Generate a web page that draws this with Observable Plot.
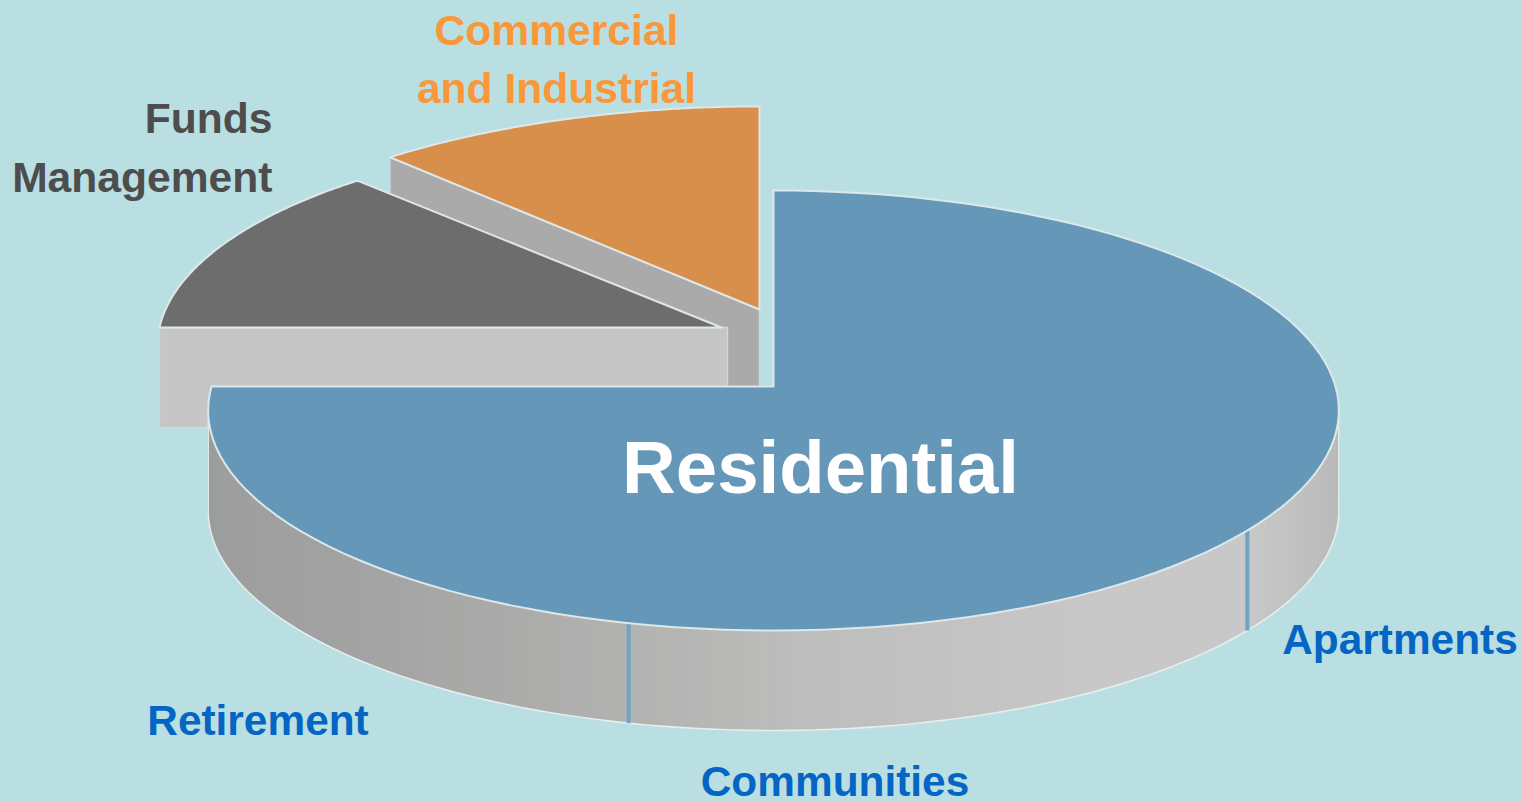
<!DOCTYPE html>
<html>
<head>
<meta charset="utf-8">
<script src="https://cdn.jsdelivr.net/npm/d3@7"></script>
<script src="https://cdn.jsdelivr.net/npm/@observablehq/plot@0.6"></script>
<style>
  html, body { margin: 0; padding: 0; background: #b9dfe3; overflow: hidden; }
  svg { display: block; }
</style>
</head>
<body>
<div id="chart"></div>
<script>
// Portfolio shares, in percent of the whole pie, clockwise from 12 o'clock.
const residentialParts = ["Apartments", "Communities", "Retirement"];
const residentialShares = [35.6, 18.1, 21.3];
const otherSlices = ["Funds Management", "Commercial and Industrial"];
const otherShares = [13, 12];

const W = 1522, H = 801;
const background = "#b9dfe3";

// Tilted-disc camera: unit-circle plane to page pixels, with a mild perspective.
const cx = 773, cy = 386, rx = 562, ry = 217.4, persp = 0.109, depth = 100;
const project = (deg, r = 1, ox = 0, oy = 0) => {
  const a = deg * Math.PI / 180;
  const X = r * Math.sin(a), Y = r * Math.cos(a);
  const s = 1 / (1 + persp * Y);
  return {x: cx + rx * X * s + ox, y: cy - ry * Y * s + oy};
};
const toDeg = (pct) => pct * 3.6;
const range = (a, b, n = 120) => d3.range(n + 1).map((i) => a + (b - a) * i / n);

const residentialEnd = toDeg(d3.sum(residentialShares));
const fundsEnd = residentialEnd + toDeg(otherShares[0]);

// Pulled-out slices: offset from the pie centre, radius, and a slight lean of the far edge.
const funds = {ox: -52, oy: -59, r: 1, lean: 0.053};
const commercial = {ox: -14, oy: -77, r: 1.04, lean: 0};

const wedge = (from, to, {ox = 0, oy = 0, r = 1, lean = 0} = {}) => {
  const apex = {x: cx + ox, y: cy + oy};
  return [apex, ...range(from, to).map((d) => {
    const p = project(d, r, ox, oy);
    return {x: p.x + lean * (p.y - apex.y), y: p.y};
  })];
};

const residentialTop = wedge(0, residentialEnd);
const fundsTop = wedge(residentialEnd, fundsEnd, funds);
const commercialTop = wedge(fundsEnd, 360, commercial);

// Rim of the main slice, built from narrow vertical bands with a left-to-right shade.
const rimShade = d3.scaleLinear()
  .domain([208, 370, 627, 800, 1100, 1250, 1338])
  .range(["#9d9d9d", "#a3a3a3", "#b2b2b0", "#bdbdbd", "#c8c8c8", "#c8c8c8", "#bababa"])
  .clamp(true);
const rimAngles = range(70, residentialEnd, 190);
const rimBands = d3.pairs(rimAngles).flatMap(([a, b], band) => {
  const p = project(a), q = project(b);
  const fill = d3.rgb(rimShade((p.x + q.x) / 2)).formatHex();
  return [
    {band, fill, x: p.x, y: p.y},
    {band, fill, x: q.x, y: q.y},
    {band, fill, x: q.x, y: q.y + depth},
    {band, fill, x: p.x, y: p.y + depth}
  ];
});

// Silhouette of the rim: down the right side, along the lower arc, up the left side.
const rimPoints = rimAngles.map((d) => project(d));
const rightmost = d3.greatest(rimPoints, (p) => p.x);
const leftmost = d3.least(rimPoints, (p) => p.x);
const rimEdge = [
  rightmost,
  ...rimPoints.slice(rimPoints.indexOf(rightmost), rimPoints.indexOf(leftmost) + 1)
    .map((p) => ({x: p.x, y: p.y + depth})),
  leftmost
];

// Cut faces of the pulled-out slices.
const commercialTip = project(fundsEnd, commercial.r, commercial.ox, commercial.oy);
const commercialApex = {x: cx + commercial.ox, y: cy + commercial.oy};
const commercialFace = [
  commercialTip, commercialApex,
  {x: commercialApex.x, y: commercialApex.y + depth},
  {x: commercialTip.x, y: commercialTip.y + depth}
];
const fundsLeft = project(residentialEnd, funds.r, funds.ox, funds.oy);
const fundsApex = {x: cx + funds.ox, y: cy + funds.oy};
const fundsFace = [
  fundsLeft, {x: fundsApex.x + 6, y: fundsApex.y},
  {x: fundsApex.x + 6, y: fundsApex.y + depth},
  {x: fundsLeft.x, y: fundsLeft.y + depth}
];

// Seams on the rim where one residential part ends and the next begins.
const seams = Array.from(d3.cumsum(residentialShares)).slice(0, 2).map((c) => {
  const p = project(toDeg(c));
  return {x: p.x, y1: p.y, y2: p.y + depth};
});

const outline = "#dde8ea";
const polygon = (data, fill, stroke = outline, strokeWidth = 2) =>
  Plot.line(data, {x: "x", y: "y", fill, stroke, strokeWidth, curve: "linear-closed"});
const label = (rows, fill, fontSize, textAnchor) =>
  Plot.text(rows, {
    x: "x", y: "y", text: "text", fill, fontSize, textAnchor,
    lineAnchor: "bottom", fontWeight: "bold", fontFamily: "Liberation Sans, Arial, sans-serif"
  });

const chart = Plot.plot({
  width: W, height: H,
  margin: 0,
  style: {background, overflow: "hidden"},
  x: {domain: [0, W], range: [0, W], axis: null},
  y: {domain: [0, H], range: [0, H], axis: null},
  color: {type: "identity"},
  marks: [
    polygon(commercialFace, "#aaaaaa", "#d0d8d8", 1.5),
    polygon(commercialTop, "#d98f4c"),
    polygon(fundsFace, "#c6c6c6", "#d0d8d8", 1.5),
    polygon(fundsTop, "#6d6d6d"),
    Plot.line(rimBands, {x: "x", y: "y", z: "band", fill: "fill", stroke: "fill", strokeWidth: 0.8, curve: "linear-closed"}),
    Plot.line(rimEdge, {x: "x", y: "y", stroke: "#e6eeee", strokeWidth: 1.6}),
    Plot.link(seams, {x1: "x", y1: "y1", x2: "x", y2: "y2", stroke: "#6fa3c1", strokeWidth: 4}),
    polygon(residentialTop, "#6497b8"),
    label([{x: 556, y: 44, text: "Commercial"}, {x: 556, y: 102, text: "and Industrial"}], "#f9983a", 42.6, "middle"),
    label([{x: 272, y: 132, text: "Funds"}, {x: 272, y: 191, text: "Management"}], "#4d4d4d", 42.6, "end"),
    label([{x: 820, y: 492, text: "Residential"}], "#ffffff", 74.4, "middle"),
    label([{x: 1399.5, y: 653, text: residentialParts[0]}, {x: 834.5, y: 795, text: residentialParts[1]}, {x: 257.5, y: 734, text: residentialParts[2]}], "#0565c4", 42.4, "middle")
  ]
});
document.getElementById("chart").append(chart);
</script>
</body>
</html>
